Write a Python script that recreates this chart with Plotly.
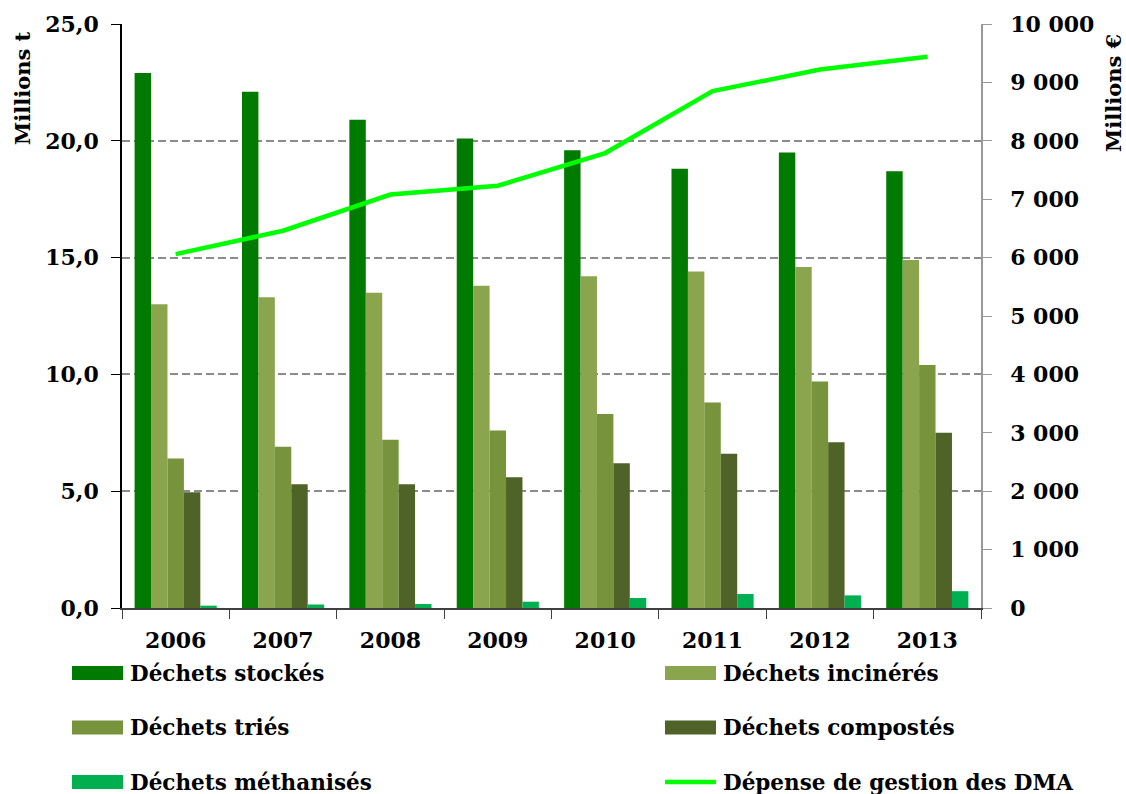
import plotly.graph_objects as go

# Household & similar waste (DMA) treatment, million tonnes, and management spending, million €
years = ["2006", "2007", "2008", "2009", "2010", "2011", "2012", "2013"]
stockes = [22.9, 22.1, 20.9, 20.1, 19.6, 18.8, 19.5, 18.7]
incineres = [13.0, 13.3, 13.5, 13.8, 14.2, 14.4, 14.6, 14.9]
tries = [6.4, 6.9, 7.2, 7.6, 8.3, 8.8, 9.7, 10.4]
compostes = [4.95, 5.3, 5.3, 5.6, 6.2, 6.6, 7.1, 7.5]
methanises = [0.1, 0.15, 0.17, 0.27, 0.43, 0.6, 0.54, 0.72]
depense = [6060, 6460, 7080, 7230, 7790, 8850, 9220, 9440]

bar_series = [
    ("Déchets stockés", stockes, "#007A00"),
    ("Déchets incinérés", incineres, "#8BA54E"),
    ("Déchets triés", tries, "#77933C"),
    ("Déchets compostés", compostes, "#4F6228"),
    ("Déchets méthanisés", methanises, "#00B050"),
]
line_name = "Dépense de gestion des DMA"
line_color = "#00FF00"

FONT = "DejaVu Serif"
W, H = 1126, 794
L, R, T, B = 122, 145, 24, 186
PW, PH = W - L - R, H - T - B


def px_x(px):
    return (px - L) / PW


def px_y(py):
    return (H - B - py) / PH


fig = go.Figure()
for name, vals, col in bar_series:
    fig.add_trace(go.Bar(x=years, y=vals, name=name, marker_color=col,
                         marker_line_width=0, showlegend=False))
fig.add_trace(go.Scatter(x=years, y=depense, name=line_name, yaxis="y2",
                         mode="lines", line=dict(color=line_color, width=4.5),
                         showlegend=False))

tick_font = dict(family=FONT, size=22, weight="bold", color="black")

fig.update_layout(
    width=W, height=H,
    margin=dict(l=L, r=R, t=T, b=B),
    paper_bgcolor="white", plot_bgcolor="white",
    separators=", ",
    barmode="group", bargap=0.235, bargroupgap=0,
    font=dict(family=FONT, size=20, color="black", weight="bold"),
    xaxis=dict(
        type="category", showgrid=False,
        showline=True, linecolor="#404040", linewidth=1.5,
        ticks="outside", tickson="boundaries", ticklen=9, tickcolor="#404040",
        ticklabelstandoff=12,
        tickfont=tick_font,
    ),
    yaxis=dict(
        range=[0, 25], dtick=5, tickformat=".1f",
        showline=True, linecolor="black", linewidth=1.5,
        ticks="outside", ticklen=9, tickcolor="black",
        showgrid=True, gridcolor="#8C8C8C", gridwidth=2, griddash="8px,4px",
        zeroline=False, ticklabelstandoff=8,
        tickfont=tick_font,
    ),
    yaxis2=dict(
        range=[0, 10000], dtick=1000, tickformat=",d",
        overlaying="y", side="right", showgrid=False, zeroline=False,
        showline=True, linecolor="#999999", linewidth=1.5,
        ticks="outside", ticklen=9, tickcolor="#999999",
        ticklabelstandoff=14,
        tickfont=tick_font,
    ),
)

# Axis titles placed near the top of each axis
for label, xpx, ypx in [("Millions t", 22, 88), ("Millions €", 1114, 93)]:
    fig.add_annotation(text=label, textangle=-90, xref="paper", yref="paper",
                       x=px_x(xpx), y=px_y(ypx), xanchor="center", yanchor="middle",
                       showarrow=False, font=dict(family=FONT, size=21, weight="bold"))

# Two-column legend below the plot
entries = [(n, c, "bar") for n, _, c in bar_series] + [(line_name, line_color, "line")]
cols_x = [72, 665]
rows_y = [673, 727.5, 782]
SW = 51
for i, (name, col, kind) in enumerate(entries):
    sx = cols_x[i % 2]
    sy = rows_y[i // 2]
    if kind == "bar":
        fig.add_shape(type="rect", xref="paper", yref="paper",
                      x0=px_x(sx), x1=px_x(sx + SW), y0=px_y(sy - 7), y1=px_y(sy + 7),
                      fillcolor=col, line=dict(width=0))
    else:
        fig.add_shape(type="line", xref="paper", yref="paper",
                      x0=px_x(sx), x1=px_x(sx + SW), y0=px_y(sy), y1=px_y(sy),
                      line=dict(color=col, width=4.5))
    fig.add_annotation(text=name, xref="paper", yref="paper",
                       x=px_x(sx + SW + 5), y=px_y(sy), xanchor="left", yanchor="middle",
                       showarrow=False, font=dict(family=FONT, size=21.5, weight="bold"))

fig.write_html("out.html")
